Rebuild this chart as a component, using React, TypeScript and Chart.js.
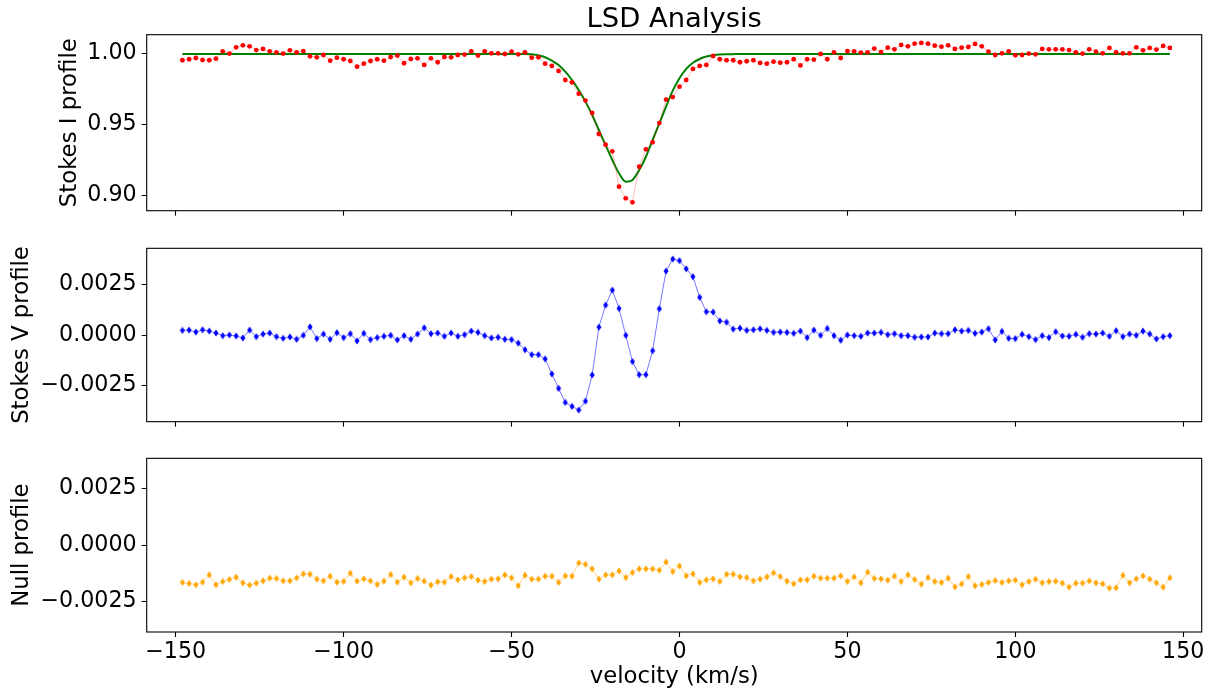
import { useEffect, useRef } from "react";
import { Chart, registerables } from "chart.js";

Chart.register(...registerables);

// Velocity grid of the LSD profiles (km/s): first bin and bin width
const VELOCITY_START = -148;
const VELOCITY_STEP = 2;

// Stokes I (normalised intensity)
const STOKES_I = [
  0.9951, 0.9958, 0.9967, 0.9953, 0.9951, 0.9962, 1.0014, 0.9998, 1.0042, 1.0056,
  1.0049, 1.0023, 1.0031, 1.0014, 1.0007, 0.9998, 1.0021, 1.0007, 1.0016, 0.9979,
  0.9972, 0.9988, 0.9948, 0.9969, 0.9958, 0.9946, 0.9906, 0.9927, 0.9946, 0.9958,
  0.9948, 0.9974, 0.9984, 0.993, 0.996, 0.9965, 0.9918, 0.9965, 0.9937, 0.9974,
  0.9972, 0.9988, 0.9991, 1.0014, 0.9984, 1.0014, 1.0, 1.0, 0.9995, 1.0012,
  0.9993, 1.0007, 0.9969, 0.9972, 0.9927, 0.9911, 0.9876, 0.9812, 0.9796, 0.9716,
  0.9667, 0.958, 0.9432, 0.9357, 0.931, 0.9061, 0.8979, 0.8951, 0.9202, 0.9324,
  0.9373, 0.9509, 0.9674, 0.9692, 0.9765, 0.9812, 0.989, 0.9911, 0.9918, 0.9981,
  0.9958, 0.9951, 0.9951, 0.9937, 0.9944, 0.9951, 0.9932, 0.9927, 0.9941, 0.9934,
  0.9937, 0.9958, 0.9915, 0.9958, 0.9955, 0.9995, 0.9958, 1.0007, 0.9967, 1.0016,
  1.0014, 1.0005, 1.0007, 1.0033, 1.0009, 1.004, 1.0028, 1.0059, 1.0049, 1.0068,
  1.0073, 1.0068, 1.0054, 1.0047, 1.0056, 1.0031, 1.004, 1.0045, 1.0066, 1.0049,
  1.0012, 0.9988, 1.0, 1.0014, 0.9986, 0.9988, 0.9998, 0.9993, 1.0031, 1.0028,
  1.0028, 1.0028, 1.0023, 1.0007, 0.9998, 1.0028, 1.0012, 1.0, 1.0038, 1.0007,
  1.0, 1.0, 1.0042, 1.0021, 1.0038, 1.0026, 1.0052, 1.0038,
];

// Gaussian fit to Stokes I, sampled on the same velocity grid
const GAUSS_FIT = [
  0.9995, 0.9995, 0.9995, 0.9995, 0.9995, 0.9995, 0.9995, 0.9995, 0.9995, 0.9995,
  0.9995, 0.9995, 0.9995, 0.9995, 0.9995, 0.9995, 0.9995, 0.9995, 0.9995, 0.9995,
  0.9995, 0.9995, 0.9995, 0.9995, 0.9995, 0.9995, 0.9995, 0.9995, 0.9995, 0.9995,
  0.9995, 0.9995, 0.9995, 0.9995, 0.9995, 0.9995, 0.9995, 0.9995, 0.9995, 0.9995,
  0.9995, 0.9995, 0.9995, 0.9995, 0.9995, 0.9995, 0.9995, 0.9995, 0.9995, 0.9995,
  0.9995, 0.9995, 0.9993, 0.9986, 0.9972, 0.9948, 0.9918, 0.9871, 0.9812, 0.9742,
  0.966, 0.9566, 0.946, 0.9354, 0.9249, 0.9155, 0.9096, 0.9108, 0.9178, 0.9272,
  0.939, 0.9507, 0.9624, 0.9737, 0.9824, 0.989, 0.9934, 0.996, 0.9977, 0.9986,
  0.9991, 0.9993, 0.9994, 0.9995, 0.9995, 0.9995, 0.9995, 0.9995, 0.9995, 0.9995,
  0.9995, 0.9995, 0.9995, 0.9995, 0.9995, 0.9995, 0.9995, 0.9995, 0.9995, 0.9995,
  0.9995, 0.9995, 0.9995, 0.9995, 0.9995, 0.9995, 0.9995, 0.9995, 0.9995, 0.9995,
  0.9995, 0.9995, 0.9995, 0.9995, 0.9995, 0.9995, 0.9995, 0.9995, 0.9995, 0.9995,
  0.9995, 0.9995, 0.9995, 0.9995, 0.9995, 0.9995, 0.9995, 0.9995, 0.9995, 0.9995,
  0.9995, 0.9995, 0.9995, 0.9995, 0.9995, 0.9995, 0.9995, 0.9995, 0.9995, 0.9995,
  0.9995, 0.9995, 0.9995, 0.9995, 0.9995, 0.9995, 0.9995, 0.9995,
];

// Stokes V (circular polarisation)
const STOKES_V = [
  0.000228, 0.000244, 0.000146, 0.00026, 0.000195, 0.0000975, -0.0000325, 0, -0.0000488, -0.000146,
  0.000244, -0.0000813, 0.0000488, 0.0000975, -0.0000813, -0.0001625, -0.0000975, -0.000211, -0.0000163, 0.000406,
  -0.000179, 0.0000488, -0.000211, 0.000114, -0.00013, 0.000065, -0.000293, 0.0000813, -0.000228, -0.00013,
  -0.000065, -0.0000163, -0.000244, -0.0000325, -0.000211, 0.0000488, 0.000358, 0.000065, 0.0000975, -0.000065,
  0.0000975, -0.000065, 0.0000163, 0.000195, 0.00013, -0.0000325, -0.000146, -0.000114, -0.000211, -0.000228,
  -0.000406, -0.000731, -0.000975, -0.000975, -0.001186, -0.001934, -0.002649, -0.003348, -0.003543, -0.003721,
  -0.003283, -0.001983, 0.00039, 0.001479, 0.002226, 0.001316, -0.0000163, -0.001316, -0.001966, -0.001966,
  -0.00078, 0.0013, 0.003169, 0.00377, 0.003689, 0.003283, 0.002893, 0.001869, 0.001154, 0.001138,
  0.000699, 0.000634, 0.000293, 0.000341, 0.000228, 0.00026, 0.000309, 0.000228, 0.00013, 0.000146,
  0.00013, 0.0000813, 0.000195, -0.00013, 0.000244, -0.0000163, 0.000325, -0.0000325, -0.00026, 0,
  -0.0000325, -0.000065, 0.0000975, 0.0000975, 0.00013, 0.0000163, 0.000065, -0.0000325, -0.0000325, -0.000114,
  -0.0000975, -0.0000975, 0.0000975, 0.000065, 0.000065, 0.00026, 0.000195, 0.000228, 0.0000813, 0.000146,
  0.000309, -0.000244, 0.000179, -0.0001625, -0.000179, 0.0000325, -0.0000813, -0.000228, -0.0000325, -0.00013,
  0.0001625, -0.0000488, -0.000065, 0.0000325, -0.000114, 0.000065, 0.0000488, 0.0000975, -0.000065, 0.000211,
  -0.0000813, 0.0000488, -0.0000163, 0.000195, 0.0000488, -0.000195, -0.0000813, -0.0000325,
];

// Null profile (diagnostic)
const NULL_N = [
  -0.001662, -0.001706, -0.001765, -0.001647, -0.001324, -0.001765, -0.001618, -0.001529, -0.001426, -0.001676,
  -0.001779, -0.001691, -0.001588, -0.001471, -0.001485, -0.001588, -0.001588, -0.001456, -0.001279, -0.001294,
  -0.001515, -0.001588, -0.001382, -0.001647, -0.001618, -0.00125, -0.001603, -0.0015, -0.001588, -0.00175,
  -0.001603, -0.001309, -0.001647, -0.001426, -0.001676, -0.001485, -0.001603, -0.001779, -0.001632, -0.001647,
  -0.001397, -0.001544, -0.001456, -0.001397, -0.001559, -0.001618, -0.001515, -0.0015, -0.001324, -0.001456,
  -0.001809, -0.001338, -0.001515, -0.001515, -0.001382, -0.001382, -0.001662, -0.001368, -0.001382, -0.000794,
  -0.000853, -0.001059, -0.001515, -0.001324, -0.001324, -0.001147, -0.001441, -0.001221, -0.001059, -0.001059,
  -0.001059, -0.001118, -0.00075, -0.001176, -0.000926, -0.001368, -0.001279, -0.001662, -0.001544, -0.0015,
  -0.001618, -0.001294, -0.001294, -0.001412, -0.001441, -0.001588, -0.001515, -0.001412, -0.001235, -0.001397,
  -0.001603, -0.001721, -0.001544, -0.001544, -0.001382, -0.001471, -0.001471, -0.001471, -0.001368, -0.001618,
  -0.001412, -0.001676, -0.001206, -0.001485, -0.0015, -0.001559, -0.001382, -0.001618, -0.001324, -0.001529,
  -0.001735, -0.001441, -0.001618, -0.001662, -0.001471, -0.001853, -0.001721, -0.001397, -0.001809, -0.00175,
  -0.001662, -0.001574, -0.001662, -0.001588, -0.001559, -0.001765, -0.001618, -0.001515, -0.001676, -0.001618,
  -0.001603, -0.001691, -0.001868, -0.001691, -0.001691, -0.001588, -0.001676, -0.001721, -0.001912, -0.001897,
  -0.001338, -0.001676, -0.0015, -0.001368, -0.001515, -0.001676, -0.001868, -0.001456,
];

const X_TICKS = [-150, -100, -50, 0, 50, 100, 150];
const I_TICKS = [0.9, 0.95, 1.0];
const V_TICKS = [-0.0025, 0, 0.0025];
const N_TICKS = [-0.0025, 0, 0.0025];

const velocity = STOKES_I.map((_, i) => VELOCITY_START + i * VELOCITY_STEP);

// ---- layout ----
const W = 1209;
const H = 694;
const AREA_LEFT = 146.7;
const AREA_RIGHT = 1201.7;
const X_MIN = -158.63;
const X_MAX = 155.48;
const FONT_FAMILY = "'DejaVu Sans', sans-serif";
const TICK_SIZE = 22.2;
const LABEL_SIZE = 22.8;
const HEADING_SIZE = 27.4;

Chart.defaults.font.family = FONT_FAMILY;
Chart.defaults.font.size = TICK_SIZE;
Chart.defaults.color = "#000";

const minusSign = (s: string) => s.replace("-", "\u2212");
const fmtI = (v: number) => v.toFixed(2);
const fmtSmall = (v: number) => (v < 0 ? "\u2212" : "") + Math.abs(v).toFixed(4);
const fmtX = (v: number) => minusSign(String(v));

function thinDiamond(color: string) {
  const c = document.createElement("canvas");
  c.width = 6;
  c.height = 8;
  const g = c.getContext("2d")!;
  g.fillStyle = color;
  g.beginPath();
  g.moveTo(3, 0.4);
  g.lineTo(5.5, 4);
  g.lineTo(3, 7.6);
  g.lineTo(0.5, 4);
  g.closePath();
  g.fill();
  return c;
}

const toPoints = (values: number[]) => values.map((y, i) => ({ x: velocity[i], y }));

const framePlugin = {
  id: "frame",
  afterDraw(chart: any) {
    const { ctx, chartArea: a } = chart;
    ctx.save();
    ctx.strokeStyle = "#000";
    ctx.lineWidth = 1.1;
    ctx.strokeRect(a.left, a.top, a.right - a.left, a.bottom - a.top);
    ctx.restore();
  },
};

const headingPlugin = {
  id: "heading",
  afterDraw(chart: any) {
    const { ctx, chartArea: a } = chart;
    ctx.save();
    ctx.font = `${HEADING_SIZE}px ${FONT_FAMILY}`;
    ctx.fillStyle = "#000";
    ctx.textAlign = "center";
    ctx.textBaseline = "alphabetic";
    ctx.fillText("LSD Analysis", (a.left + a.right) / 2, 27);
    ctx.restore();
  },
};

type Panel = {
  top: number;
  height: number;
  areaTop: number;
  areaBottom: number;
  yMin: number;
  yMax: number;
  yTicks: number[];
  yFormat: (v: number) => string;
  yTitle: string;
  yTitleX: number;
  xLabels: boolean;
  heading: boolean;
  datasets: () => any[];
};

const PANELS: Panel[] = [
  {
    top: 0,
    height: 230,
    areaTop: 34.7,
    areaBottom: 210.7,
    yMin: 0.8892,
    yMax: 1.0131,
    yTicks: I_TICKS,
    yFormat: fmtI,
    yTitle: "Stokes I profile",
    yTitleX: 70.5,
    xLabels: false,
    heading: true,
    datasets: () => [
      {
        data: toPoints(STOKES_I),
        borderColor: "rgba(255,0,0,0.35)",
        borderWidth: 0.8,
        pointStyle: "circle",
        pointRadius: 2.4,
        pointBorderWidth: 0,
        pointBackgroundColor: "#ff0000",
        order: 1,
      },
      {
        data: toPoints(GAUSS_FIT),
        borderColor: "#008000",
        borderWidth: 2,
        pointRadius: 0,
        cubicInterpolationMode: "monotone",
        order: 2,
      },
    ],
  },
  {
    top: 230,
    height: 210,
    areaTop: 245.7,
    areaBottom: 421.7,
    yMin: -0.0043,
    yMax: 0.0043,
    yTicks: V_TICKS,
    yFormat: fmtSmall,
    yTitle: "Stokes V profile",
    yTitleX: 22,
    xLabels: false,
    heading: false,
    datasets: () => [
      {
        data: toPoints(STOKES_V),
        borderColor: "rgba(0,0,255,0.6)",
        borderWidth: 0.9,
        pointStyle: thinDiamond("#0000ff"),
        pointRadius: 3,
      },
    ],
  },
  {
    top: 440,
    height: 254,
    areaTop: 456.7,
    areaBottom: 632,
    yMin: -0.00386,
    yMax: 0.00385,
    yTicks: N_TICKS,
    yFormat: fmtSmall,
    yTitle: "Null profile",
    yTitleX: 22,
    xLabels: true,
    heading: false,
    datasets: () => [
      {
        data: toPoints(NULL_N),
        borderColor: "rgba(255,165,0,0.5)",
        borderWidth: 0.9,
        pointStyle: thinDiamond("#ffa500"),
        pointRadius: 3,
      },
    ],
  },
];

function buildPanel(canvas: HTMLCanvasElement, p: Panel) {
  const xHeight = p.top + p.height - p.areaBottom;
  const tickGrid = {
    drawOnChartArea: false,
    drawTicks: true,
    tickLength: 5,
    tickColor: "#000",
    tickWidth: 1.1,
  };
  return new Chart(canvas, {
    type: "line",
    data: { datasets: p.datasets() },
    options: {
      animation: false,
      responsive: false,
      events: [],
      layout: {
        autoPadding: false,
        padding: { left: 0, right: W - AREA_RIGHT, top: p.areaTop - p.top, bottom: 0 },
      },
      plugins: {
        legend: { display: false },
        tooltip: { enabled: false },
        title: { display: false },
      },
      scales: {
        x: {
          type: "linear",
          min: X_MIN,
          max: X_MAX,
          afterBuildTicks: (s: any) => {
            s.ticks = X_TICKS.map((value) => ({ value }));
          },
          afterFit: (s: any) => {
            s.height = xHeight;
          },
          ticks: {
            display: p.xLabels,
            autoSkip: false,
            maxRotation: 0,
            padding: 1.5,
            color: "#000",
            font: { size: TICK_SIZE },
            callback: (v: any) => fmtX(Number(v)),
          },
          grid: tickGrid,
          border: { display: false },
          title: {
            display: p.xLabels,
            text: "velocity (km/s)",
            color: "#000",
            font: { size: LABEL_SIZE },
            padding: { top: 0, bottom: 3 },
          },
        },
        y: {
          type: "linear",
          min: p.yMin,
          max: p.yMax,
          afterBuildTicks: (s: any) => {
            s.ticks = p.yTicks.map((value) => ({ value }));
          },
          afterFit: (s: any) => {
            s.width = AREA_LEFT;
          },
          ticks: {
            padding: 5,
            color: "#000",
            font: { size: TICK_SIZE },
            callback: (v: any) => p.yFormat(Number(v)),
          },
          grid: tickGrid,
          border: { display: false },
          title: {
            display: true,
            text: p.yTitle,
            color: "#000",
            font: { size: LABEL_SIZE },
            padding: { top: p.yTitleX - (LABEL_SIZE * 1.2) / 2, bottom: 0 },
          },
        },
      },
    } as any,
    plugins: p.heading ? [framePlugin, headingPlugin] : [framePlugin],
  });
}

export default function App() {
  const refs = useRef<(HTMLCanvasElement | null)[]>([]);

  useEffect(() => {
    const charts = PANELS.map((p, i) => buildPanel(refs.current[i] as HTMLCanvasElement, p));
    return () => charts.forEach((c) => c.destroy());
  }, []);

  return (
    <div
      style={{
        position: "fixed",
        left: 0,
        top: 0,
        width: W,
        height: H,
        background: "#fff",
        overflow: "hidden",
      }}
    >
      {PANELS.map((p, i) => (
        <canvas
          key={i}
          ref={(el) => {
            refs.current[i] = el;
          }}
          width={W}
          height={p.height}
          style={{ position: "absolute", left: 0, top: p.top, display: "block" }}
        />
      ))}
    </div>
  );
}
